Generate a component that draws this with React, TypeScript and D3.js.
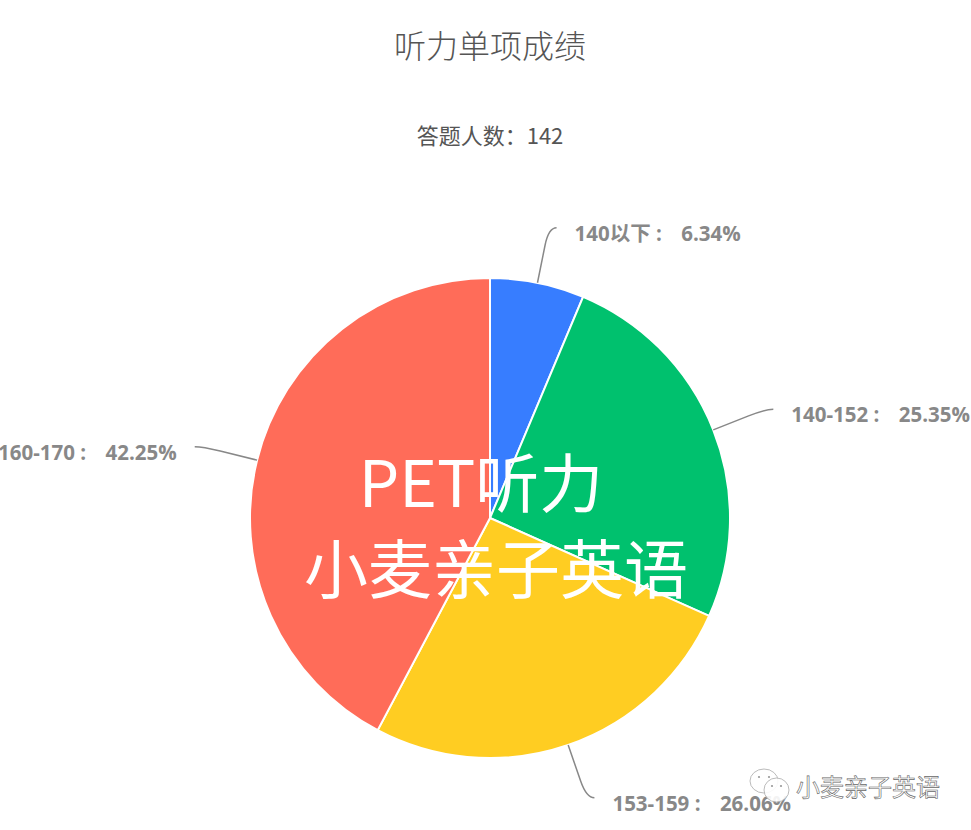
import { useEffect, useRef } from "react";
import * as d3 from "d3";

const categories = ["140以下", "140-152", "153-159", "160-170"];
const percents = [6.34, 25.35, 26.06, 42.25];
const colors = ["#377dff", "#00c16e", "#ffcd22", "#ff6c59"];
const watermarkLines = ["PET听力", "小麦亲子英语"];

const width = 971;
const height = 830;
const cjk = "'Noto Sans CJK SC', 'Noto Sans', sans-serif";

export default function App() {
  const svgRef = useRef<SVGSVGElement | null>(null);

  useEffect(() => {
    const svg = d3.select(svgRef.current);
    svg.selectAll("*").remove();

    const cx = 490;
    const cy = 518;
    const radius = 240;
    const leaderRadius = 296;

    svg.append("text")
      .attr("x", cx).attr("y", 58)
      .attr("text-anchor", "middle")
      .style("font-family", cjk).style("font-size", "32px").style("font-weight", 300)
      .style("fill", "#555")
      .text("听力单项成绩");

    svg.append("text")
      .attr("x", cx).attr("y", 144)
      .attr("text-anchor", "middle")
      .style("font-family", cjk).style("font-size", "22px")
      .style("fill", "#555")
      .text("答题人数：142");

    const pie = d3.pie<number>().sort(null).value((d) => d);
    const arcs = pie(percents);
    const arc = d3.arc<d3.PieArcDatum<number>>().innerRadius(0).outerRadius(radius);

    const g = svg.append("g").attr("transform", `translate(${cx},${cy})`);

    g.selectAll("path.slice")
      .data(arcs)
      .join("path")
      .attr("class", "slice")
      .attr("d", arc)
      .attr("fill", (_, i) => colors[i])
      .attr("stroke", "#fff")
      .attr("stroke-width", 2);

    // leader lines and labels come from each slice's mid angle
    arcs.forEach((d, i) => {
      const mid = (d.startAngle + d.endAngle) / 2;
      const sx = Math.sin(mid);
      const sy = -Math.cos(mid);
      const side = sx >= 0 ? 1 : -1;
      const ex = sx * leaderRadius;
      const ey = sy * leaderRadius;
      const tipX = ex + side * 8;

      const path = d3.path();
      path.moveTo(sx * radius, sy * radius);
      path.lineTo(sx * (radius + 38), sy * (radius + 38));
      path.quadraticCurveTo(ex, ey, tipX, ey);
      g.append("path")
        .attr("d", path.toString())
        .attr("fill", "none")
        .attr("stroke", "#888")
        .attr("stroke-width", 1.5);

      g.append("text")
        .attr("x", tipX + side * 18)
        .attr("y", ey + 13)
        .attr("text-anchor", side > 0 ? "start" : "end")
        .style("font-family", "'Open Sans', 'Noto Sans CJK SC', sans-serif")
        .style("font-size", "20.5px")
        .style("font-weight", 700)
        .style("fill", "#888")
        .text(`${categories[i]} :\u00a0\u00a0\u00a0\u2009${percents[i].toFixed(2)}%`);
    });

    // big white watermark over the pie
    svg.selectAll("text.mark")
      .data(watermarkLines)
      .join("text")
      .attr("class", "mark")
      .attr("x", (_, i) => (i === 0 ? 481 : 496))
      .attr("y", (_, i) => (i === 0 ? 507 : 593))
      .attr("text-anchor", "middle")
      .style("font-family", cjk)
      .style("font-size", "64px")
      .style("fill", "#fff")
      .text((d) => d);

    // wechat account stamp, bottom right
    const stamp = svg.append("g").attr("fill", "#fff").attr("stroke", "#aaa").attr("stroke-width", 0.8);
    stamp.append("ellipse").attr("cx", 764).attr("cy", 781).attr("rx", 14).attr("ry", 12).attr("fill-opacity", 0.75);
    stamp.append("ellipse").attr("cx", 776.5).attr("cy", 790).attr("rx", 12.5).attr("ry", 12).attr("fill-opacity", 0.9);
    const eyes = svg.append("g").attr("fill", "#999");
    [[759, 777], [769, 777], [772, 786], [781, 786]].forEach(([x, y]) => {
      eyes.append("circle").attr("cx", x).attr("cy", y).attr("r", 1.1);
    });
    svg.append("text")
      .attr("x", 796).attr("y", 796)
      .style("font-family", cjk).style("font-size", "24px")
      .style("fill", "#fff").style("stroke", "#666").style("stroke-width", 0.6)
      .text("小麦亲子英语");
  }, []);

  return (
    <svg
      ref={svgRef}
      width={width}
      height={height}
      style={{ position: "absolute", left: 0, top: 0, backgroundColor: "#fff" }}
    />
  );
}
